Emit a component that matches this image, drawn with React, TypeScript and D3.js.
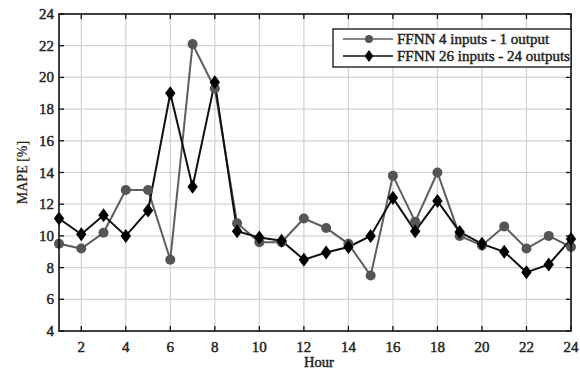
import { useEffect, useRef } from "react";
import * as d3 from "d3";

const hours = d3.range(1, 25);
const ffnn4 = [9.5, 9.2, 10.2, 12.9, 12.9, 8.5, 22.1, 19.3, 10.8, 9.6, 9.6, 11.1,
  10.5, 9.5, 7.5, 13.8, 10.9, 14.0, 10.0, 9.4, 10.6, 9.2, 10.0, 9.3];
const ffnn26 = [11.1, 10.1, 11.3, 10.0, 11.6, 19.0, 13.1, 19.7, 10.3, 9.9, 9.7, 8.5,
  8.95, 9.3, 10.0, 12.4, 10.3, 12.2, 10.25, 9.5, 9.0, 7.7, 8.2, 9.8];
const xTicks = [2, 4, 6, 8, 10, 12, 14, 16, 18, 20, 22, 24];
const yTicks = [4, 6, 8, 10, 12, 14, 16, 18, 20, 22, 24];
const seriesNames = ["FFNN 4 inputs - 1 output", "FFNN 26 inputs - 24 outputs"];

const W = 580, H = 371;
const m = { left: 59, right: 9, top: 14, bottom: 40 };
const FONT = "'Liberation Serif', 'DejaVu Serif', serif";

export default function App() {
  const ref = useRef<SVGSVGElement>(null);

  useEffect(() => {
    const svg = d3.select(ref.current);
    svg.selectAll("*").remove();

    const x = d3.scaleLinear().domain([1, 24]).range([m.left, W - m.right]);
    const y = d3.scaleLinear().domain([4, 24]).range([H - m.bottom, m.top]);
    const x0 = x.range()[0], x1 = x.range()[1];
    const y0 = y.range()[0], y1 = y.range()[1];

    svg.append("rect").attr("width", W).attr("height", H).attr("fill", "#fff");

    // heavy serif text, like the scanned figure
    const txt = (sel: any, size: number) =>
      sel.attr("font-family", FONT).attr("font-size", size)
        .attr("fill", "#222").attr("stroke", "#222").attr("stroke-width", 0.45);

    // grid
    const grid = svg.append("g").attr("stroke", "#cfd3d8").attr("stroke-width", 1.2);
    grid.selectAll(".gx").data(xTicks.filter((t) => t < 24)).join("line")
      .attr("x1", (d) => x(d)).attr("x2", (d) => x(d)).attr("y1", y0).attr("y2", y1);
    grid.selectAll(".gy").data(yTicks.filter((t) => t > 4 && t < 24)).join("line")
      .attr("x1", x0).attr("x2", x1).attr("y1", (d) => y(d)).attr("y2", (d) => y(d));

    // ticks (inward, all four sides)
    const tk = svg.append("g").attr("stroke", "#111").attr("stroke-width", 1.3);
    xTicks.forEach((t) => {
      tk.append("line").attr("x1", x(t)).attr("x2", x(t)).attr("y1", y0).attr("y2", y0 - 5);
      tk.append("line").attr("x1", x(t)).attr("x2", x(t)).attr("y1", y1).attr("y2", y1 + 5);
    });
    yTicks.forEach((t) => {
      tk.append("line").attr("x1", x0).attr("x2", x0 + 5).attr("y1", y(t)).attr("y2", y(t));
      tk.append("line").attr("x1", x1).attr("x2", x1 - 5).attr("y1", y(t)).attr("y2", y(t));
    });

    // tick labels
    txt(svg.append("g").selectAll("text").data(xTicks).join("text")
      .attr("x", (d) => x(d)).attr("y", y0 + 21)
      .attr("text-anchor", "middle"), 15).text((d: number) => d);
    txt(svg.append("g").selectAll("text").data(yTicks).join("text")
      .attr("x", x0 - 5).attr("y", (d) => y(d) + 5)
      .attr("text-anchor", "end"), 15).text((d: number) => d);

    txt(svg.append("text").attr("x", (x0 + x1) / 2 + 4).attr("y", 367)
      .attr("text-anchor", "middle"), 14.5).text("Hour");
    txt(svg.append("text")
      .attr("transform", `translate(27,${(y0 + y1) / 2}) rotate(-90)`)
      .attr("text-anchor", "middle"), 14).attr("stroke-width", 0.2).text("MAPE [%]");

    const line = d3.line<number>().x((_, i) => x(hours[i])).y((d) => y(d));
    const diamond = d3.symbol().type(d3.symbolDiamond2).size(95);

    // gray series
    svg.append("path").datum(ffnn4).attr("d", line).attr("fill", "none")
      .attr("stroke", "#5e5e5e").attr("stroke-width", 2);
    // black series
    svg.append("path").datum(ffnn26).attr("d", line).attr("fill", "none")
      .attr("stroke", "#111").attr("stroke-width", 2);

    svg.append("g").selectAll("circle").data(ffnn4).join("circle")
      .attr("cx", (_, i) => x(hours[i])).attr("cy", (d) => y(d)).attr("r", 5)
      .attr("fill", "#555");
    svg.append("g").selectAll("path").data(ffnn26).join("path")
      .attr("d", diamond)
      .attr("transform", (d, i) => `translate(${x(hours[i])},${y(d)}) scale(0.85,1.15)`)
      .attr("fill", "#000");

    // frame
    svg.append("rect").attr("x", x0).attr("y", y1).attr("width", x1 - x0).attr("height", y0 - y1)
      .attr("fill", "none").attr("stroke", "#111").attr("stroke-width", 1.6);

    // legend
    const lg = svg.append("g");
    lg.append("rect").attr("x", 333).attr("y", 29).attr("width", x1 - 333).attr("height", 38)
      .attr("fill", "#fff").attr("stroke", "#111").attr("stroke-width", 1.3);
    const rows = [
      { name: seriesNames[0], color: "#5e5e5e", marker: "circle", yy: 39 },
      { name: seriesNames[1], color: "#111", marker: "diamond", yy: 56 },
    ];
    rows.forEach((r) => {
      lg.append("line").attr("x1", 343).attr("x2", 393).attr("y1", r.yy).attr("y2", r.yy)
        .attr("stroke", r.color).attr("stroke-width", 1.5);
      if (r.marker === "circle") {
        lg.append("circle").attr("cx", 369).attr("cy", r.yy).attr("r", 4).attr("fill", "#555");
      } else {
        lg.append("path").attr("d", d3.symbol().type(d3.symbolDiamond2).size(70))
          .attr("transform", `translate(369,${r.yy}) scale(0.85,1.15)`).attr("fill", "#000");
      }
      txt(lg.append("text").attr("x", 397).attr("y", r.yy + 5), 15).text(r.name);
    });
  }, []);

  return (
    <svg ref={ref} width={W} height={H} style={{ position: "absolute", left: 0, top: 0 }} />
  );
}
